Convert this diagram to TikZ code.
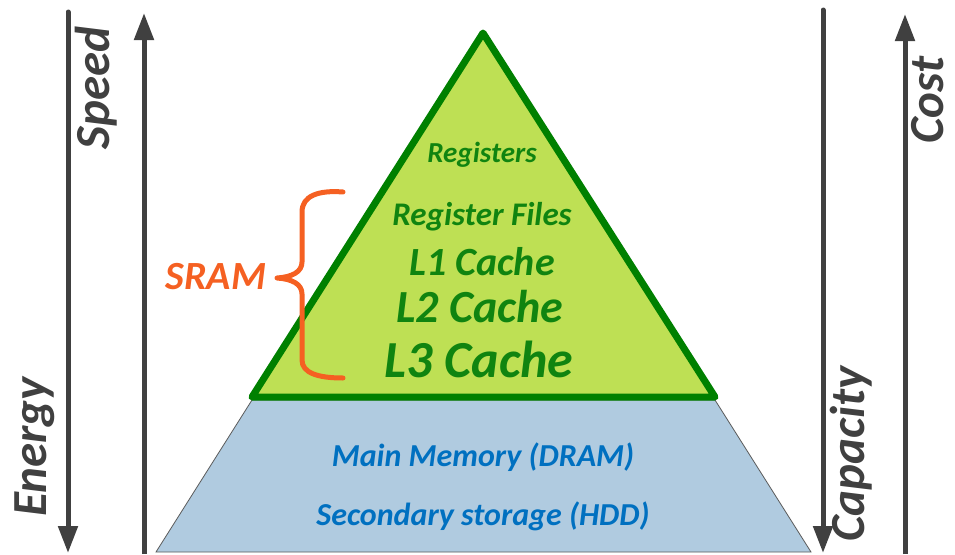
\documentclass[tikz,border=0pt]{standalone}
\usepackage{fontspec}
\setmainfont{Carlito}
\usetikzlibrary{arrows.meta}
\definecolor{axisgray}{RGB}{64,64,64}
\definecolor{sramfill}{RGB}{190,224,84}
\definecolor{sramline}{RGB}{0,128,0}
\definecolor{sramtext}{RGB}{16,132,16}
\definecolor{dramfill}{RGB}{176,203,224}
\definecolor{dramline}{RGB}{90,90,90}
\definecolor{dramtext}{RGB}{0,112,192}
\definecolor{braceorange}{RGB}{245,96,34}
\newcommand{\fsz}[1]{\fontsize{#1}{#1}\selectfont\bfseries\itshape}
\begin{document}
\begin{tikzpicture}[x=1pt,y=-1pt,
  axisline/.style={draw=axisgray, line width=5pt},
  axistip/.style={-{Triangle[length=27pt,width=19pt]}},
  axislbl/.style={text=axisgray, font=\fsz{49}, rotate=90, anchor=base, inner sep=0pt},
  sramlbl/.style={text=sramtext, anchor=base, inner sep=0pt},
  dramlbl/.style={text=dramtext, anchor=base, inner sep=0pt, font=\fsz{32}},
  bracestyle/.style={draw=braceorange, line width=5pt, line cap=round, line join=round}
]
\useasboundingbox (0,0) rectangle (955,554);

% lower level (DRAM / HDD)
\filldraw[fill=dramfill, draw=dramline, line width=0.8pt]
  (252,400) -- (715,400) -- (811,552) -- (156,552) -- cycle;

% upper level (SRAM)
\filldraw[fill=sramfill, draw=sramline, line width=7pt, line join=round]
  (483,33) -- (715,397) -- (252,397) -- cycle;

% axis coordinates
\coordinate (e-top) at (68,12);
\coordinate (e-bot) at (68,553);
\coordinate (s-bot) at (144,554);
\coordinate (s-top) at (144,13);
\coordinate (cap-top) at (823,10);
\coordinate (cap-bot) at (823,553);
\coordinate (c-bot) at (905,554);
\coordinate (c-top) at (905,14);

\draw[axisline, axistip, line cap=round] (e-top) -- (e-bot);
\draw[axisline, axistip] (s-bot) -- (s-top);
\draw[axisline, axistip, line cap=round] (cap-top) -- (cap-bot);
\draw[axisline, axistip] (c-bot) -- (c-top);

\node[axislbl] (speed) at (109,88) {Speed};
\node[axislbl] (energy) at (46,447) {Energy};
\node[axislbl] (cost) at (943,100) {Cost};
\node[axislbl] (capacity) at (864,454) {Capacity};

% level labels
\node[sramlbl, font=\fsz{29}] (reg) at (482,162) {Registers};
\node[sramlbl, font=\fsz{33}] (rf) at (482,225) {Register Files};
\node[sramlbl, font=\fsz{40}] (l1) at (482,275) {L1 Cache};
\node[sramlbl, font=\fsz{46}] (l2) at (480,322) {L2 Cache};
\node[sramlbl, font=\fsz{52}] (l3) at (479,377) {L3 Cache};

\node[dramlbl] (dram) at (483,466) {Main Memory (DRAM)};
\node[dramlbl] (hdd) at (483,525) {Secondary storage (HDD)};

% brace
\coordinate (br-top) at (343,192);
\coordinate (br-tip) at (277,278);
\coordinate (br-bot) at (343,378);
\draw[bracestyle] (br-top) .. controls (318,190) and (302,196) .. (302,212)
  -- (302,262) .. controls (302,272) and (292,277) .. (br-tip)
  .. controls (292,279) and (302,284) .. (302,294)
  -- (302,360) .. controls (302,373) and (318,378) .. (br-bot);
\node[text=braceorange, font=\fsz{40}, anchor=base, inner sep=0pt] (sram) at (216,289) {SRAM};
\end{tikzpicture}
\end{document}
